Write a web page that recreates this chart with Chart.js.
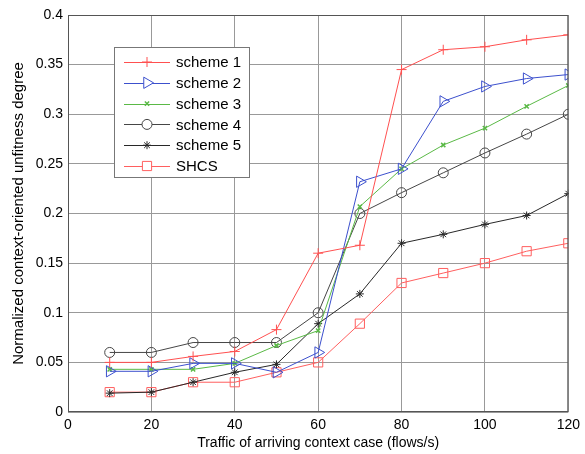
<!DOCTYPE html>
<html><head><meta charset="utf-8">
<script src="https://cdn.jsdelivr.net/npm/chart.js@4/dist/chart.umd.min.js"></script>
<style>html,body{margin:0;padding:0;background:#fff}#wrap{width:585px;height:454px}</style>
</head><body><div id="wrap"><canvas id="c" width="585" height="454"></canvas></div>
<script>
const traffic = [10,20,30,40,50,60,70,80,90,100,110,120];
const scheme1 = [0.05,0.05,0.056,0.061,0.083,0.16,0.168,0.345,0.365,0.368,0.375,0.38];
const scheme2 = [0.041,0.041,0.049,0.049,0.040,0.060,0.232,0.245,0.313,0.328,0.336,0.340];
const scheme3 = [0.043,0.043,0.043,0.049,0.067,0.082,0.207,0.245,0.269,0.286,0.308,0.329];
const scheme4 = [0.06,0.06,0.07,0.07,0.07,0.10,0.20,0.221,0.241,0.261,0.280,0.30];
const scheme5 = [0.019,0.02,0.03,0.04,0.048,0.089,0.119,0.170,0.179,0.189,0.198,0.22];
const shcs    = [0.02,0.02,0.03,0.03,0.04,0.05,0.089,0.13,0.14,0.15,0.162,0.17];
const seriesNames = ['scheme 1','scheme 2','scheme 3','scheme 4','scheme 5','SHCS'];
const xTicks = [0,20,40,60,80,100,120];
const yTicks = [0,0.05,0.1,0.15,0.2,0.25,0.3,0.35,0.4];

const styles = [
  {c:'rgb(255,80,80)', ps:'cross', r:5, rot:0, pw:1},
  {c:'rgb(60,80,205)', ps:'triangle', r:6.5, rot:90, pw:1},
  {c:'rgb(90,185,70)', ps:'crossRot', r:3, rot:0, pw:1.5},
  {c:'rgb(70,70,70)', ps:'circle', r:5, rot:0, pw:1},
  {c:'rgb(40,40,40)', ps:'star', r:4, rot:0, pw:1},
  {c:'rgb(255,95,95)', ps:'rect', r:6.5, rot:0, pw:1}
];
const allData = [scheme1,scheme2,scheme3,scheme4,scheme5,shcs];
const datasets = allData.map((d,i)=>({
  label: seriesNames[i],
  data: traffic.map((x,j)=>({x:x,y:d[j]})),
  borderColor: styles[i].c,
  backgroundColor: 'rgba(0,0,0,0)',
  borderWidth: 1,
  pointStyle: styles[i].ps,
  pointRadius: styles[i].r,
  pointRotation: styles[i].rot,
  pointBorderColor: styles[i].c,
  pointBackgroundColor: 'rgba(0,0,0,0)',
  pointBorderWidth: styles[i].pw,
  pointHoverRadius: styles[i].r,
  tension: 0
}));

const framePlugin = {
  id:'frame',
  afterDraw(chart){
    const ctx = chart.ctx, a = chart.chartArea;
    ctx.save();
    ctx.strokeStyle = '#555'; ctx.lineWidth = 1;
    ctx.strokeRect(a.left+0.5, a.top+0.5, a.right-a.left-1, a.bottom-a.top-1);
    // legend box
    const bx=114, by=47, bw=135, bh=130;
    ctx.fillStyle='#fff'; ctx.fillRect(bx,by,bw,bh);
    ctx.strokeStyle='#777'; ctx.strokeRect(bx+0.5,by+0.5,bw,bh);
    ctx.font = '15px "Liberation Sans", Arial, sans-serif';
    ctx.textBaseline='middle'; ctx.textAlign='left';
    chart.data.datasets.forEach((ds,i)=>{
      const y = 62 + i*20.8;
      ctx.strokeStyle = ds.borderColor; ctx.lineWidth = 1;
      ctx.beginPath(); ctx.moveTo(124,Math.round(y)+0.5); ctx.lineTo(170,Math.round(y)+0.5); ctx.stroke();
      ctx.save();
      ctx.strokeStyle = ds.borderColor; ctx.fillStyle = '#fff'; ctx.lineWidth = ds.pointBorderWidth;
      Chart.helpers.drawPoint(ctx,{pointStyle:ds.pointStyle,radius:ds.pointRadius,rotation:ds.pointRotation,borderWidth:ds.pointBorderWidth},147,y);
      ctx.restore();
      ctx.fillStyle='#000';
      ctx.fillText(ds.label,176,y+1);
    });
    ctx.restore();
  }
};

new Chart(document.getElementById('c'),{
  type:'line',
  data:{datasets},
  options:{
    responsive:false, animation:false,
    layout:{padding:{top:15,right:14,left:0,bottom:0}},
    plugins:{legend:{display:false},tooltip:{enabled:false}},
    scales:{
      x:{type:'linear',min:0,max:120,
        afterBuildTicks(s){s.ticks = xTicks.map(v=>({value:v}));},
        afterFit(s){s.height=42;},
        grid:{color:'#999',borderDash:[2,1],drawTicks:false,lineWidth:1},
        border:{display:false},
        ticks:{padding:5,color:'#000',font:{family:'"Liberation Sans", Arial, sans-serif',size:14},maxRotation:0},
        title:{display:true,text:'Traffic of arriving context case (flows/s)',color:'#000',padding:{top:0,bottom:2},font:{family:'"Liberation Sans", Arial, sans-serif',size:14}}
      },
      y:{min:0,max:0.4,
        afterBuildTicks(s){s.ticks = yTicks.map(v=>({value:v}));},
        afterFit(s){s.width=68;},
        grid:{color:'#999',borderDash:[2,1],drawTicks:false,lineWidth:1},
        border:{display:false},
        ticks:{padding:5,color:'#000',font:{family:'"Liberation Sans", Arial, sans-serif',size:14},callback:v=>String(parseFloat(v.toFixed(2)))},
        title:{display:true,text:'Normalized context-oriented unfitness degree',color:'#000',padding:{top:10,bottom:2},font:{family:'"Liberation Sans", Arial, sans-serif',size:15}}
      }
    }
  },
  plugins:[framePlugin]
});
</script></body></html>
